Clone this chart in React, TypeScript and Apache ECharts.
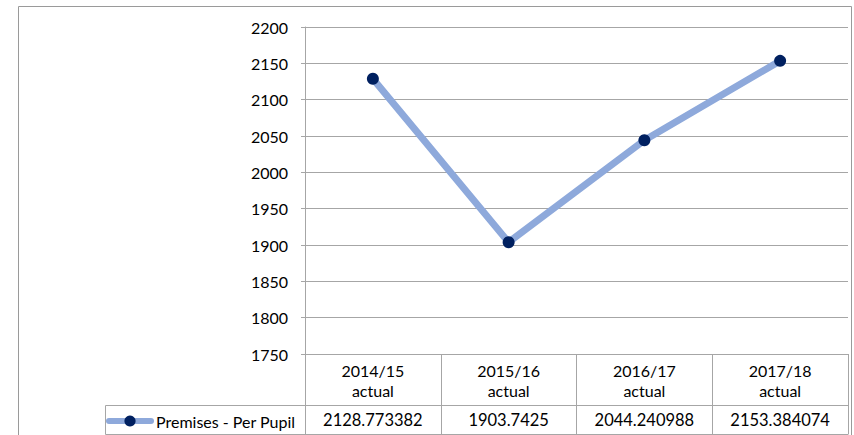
import React, { useEffect, useRef } from "react";
import * as echarts from "echarts";

const categories = ["2014/15\nactual", "2015/16\nactual", "2016/17\nactual", "2017/18\nactual"];
const seriesName = "Premises - Per Pupil";
const values = [2128.773382, 1903.7425, 2044.240988, 2153.384074];
const yMin = 1750;
const yMax = 2200;
const yStep = 50;

const FONT = "Lato, 'Open Sans', sans-serif";
const GRID = "#a6a6a6";

export default function App() {
  const ref = useRef<HTMLDivElement>(null);
  useEffect(() => {
    if (!ref.current) return;
    const chart = echarts.init(ref.current, undefined, { renderer: "svg" });
    chart.setOption({
      animation: false,
      backgroundColor: "#ffffff",
      textStyle: { fontFamily: FONT, color: "#000" },
      grid: { left: 305, right: 6, top: 27, bottom: 81, containLabel: false },
      legend: {
        data: [seriesName],
        left: 106,
        top: 413,
        itemWidth: 42,
        itemHeight: 14,
        padding: 0,
        textStyle: { fontFamily: FONT, fontSize: 16, color: "#000" },
        lineStyle: { width: 6, color: "#8EA9DB" },
        itemStyle: { color: "#002060" },
      },
      xAxis: [
        {
          type: "category",
          data: categories,
          boundaryGap: true,
          axisLine: { show: true, lineStyle: { color: GRID, width: 1 } },
          axisTick: { show: true, length: 80, interval: 0, lineStyle: { color: GRID, width: 1 } },
          axisLabel: {
            interval: 0,
            margin: 6,
            fontSize: 16,
            lineHeight: 20,
            color: "#000",
            fontFamily: FONT,
          },
        },
        {
          type: "category",
          position: "bottom",
          offset: 51,
          data: values.map((v) => String(v)),
          boundaryGap: true,
          axisLine: { show: true, lineStyle: { color: GRID, width: 1 } },
          axisTick: { show: false },
          axisLabel: {
            interval: 0,
            margin: 6,
            fontSize: 16.5,
            lineHeight: 18,
            color: "#000",
            fontFamily: FONT,
          },
        },
      ],
      yAxis: {
        type: "value",
        min: yMin,
        max: yMax,
        interval: yStep,
        axisLine: { show: true, lineStyle: { color: GRID, width: 1 } },
        axisTick: { show: true, length: 4, lineStyle: { color: GRID } },
        splitLine: { show: true, lineStyle: { color: GRID, width: 1 } },
        axisLabel: {
          margin: 17,
          fontSize: 16,
          color: "#000",
          fontFamily: FONT,
          formatter: (v: number) => String(v),
        },
      },
      series: [
        {
          name: seriesName,
          type: "line",
          xAxisIndex: 0,
          data: values,
          symbol: "circle",
          symbolSize: 12,
          lineStyle: { width: 7, color: "#8EA9DB", cap: "round", join: "round" },
          itemStyle: { color: "#002060" },
        },
      ],
      graphic: [
        {
          type: "rect",
          shape: { x: 18.5, y: 6.5, width: 833, height: 440 },
          style: { fill: "none", stroke: "#9a9a9a", lineWidth: 1 },
          silent: true,
        },
        {
          type: "line",
          shape: { x1: 105.5, y1: 405.5, x2: 305.5, y2: 405.5 },
          style: { stroke: GRID, lineWidth: 1 },
        },
        {
          type: "line",
          shape: { x1: 105.5, y1: 434.5, x2: 848.5, y2: 434.5 },
          style: { stroke: GRID, lineWidth: 1 },
        },
        {
          type: "line",
          shape: { x1: 105.5, y1: 405.5, x2: 105.5, y2: 434.5 },
          style: { stroke: GRID, lineWidth: 1 },
        },
      ],
    });
    return () => chart.dispose();
  }, []);
  return (
    <div
      ref={ref}
      style={{ position: "fixed", left: 0, top: 0, width: 854, height: 435 }}
    />
  );
}
